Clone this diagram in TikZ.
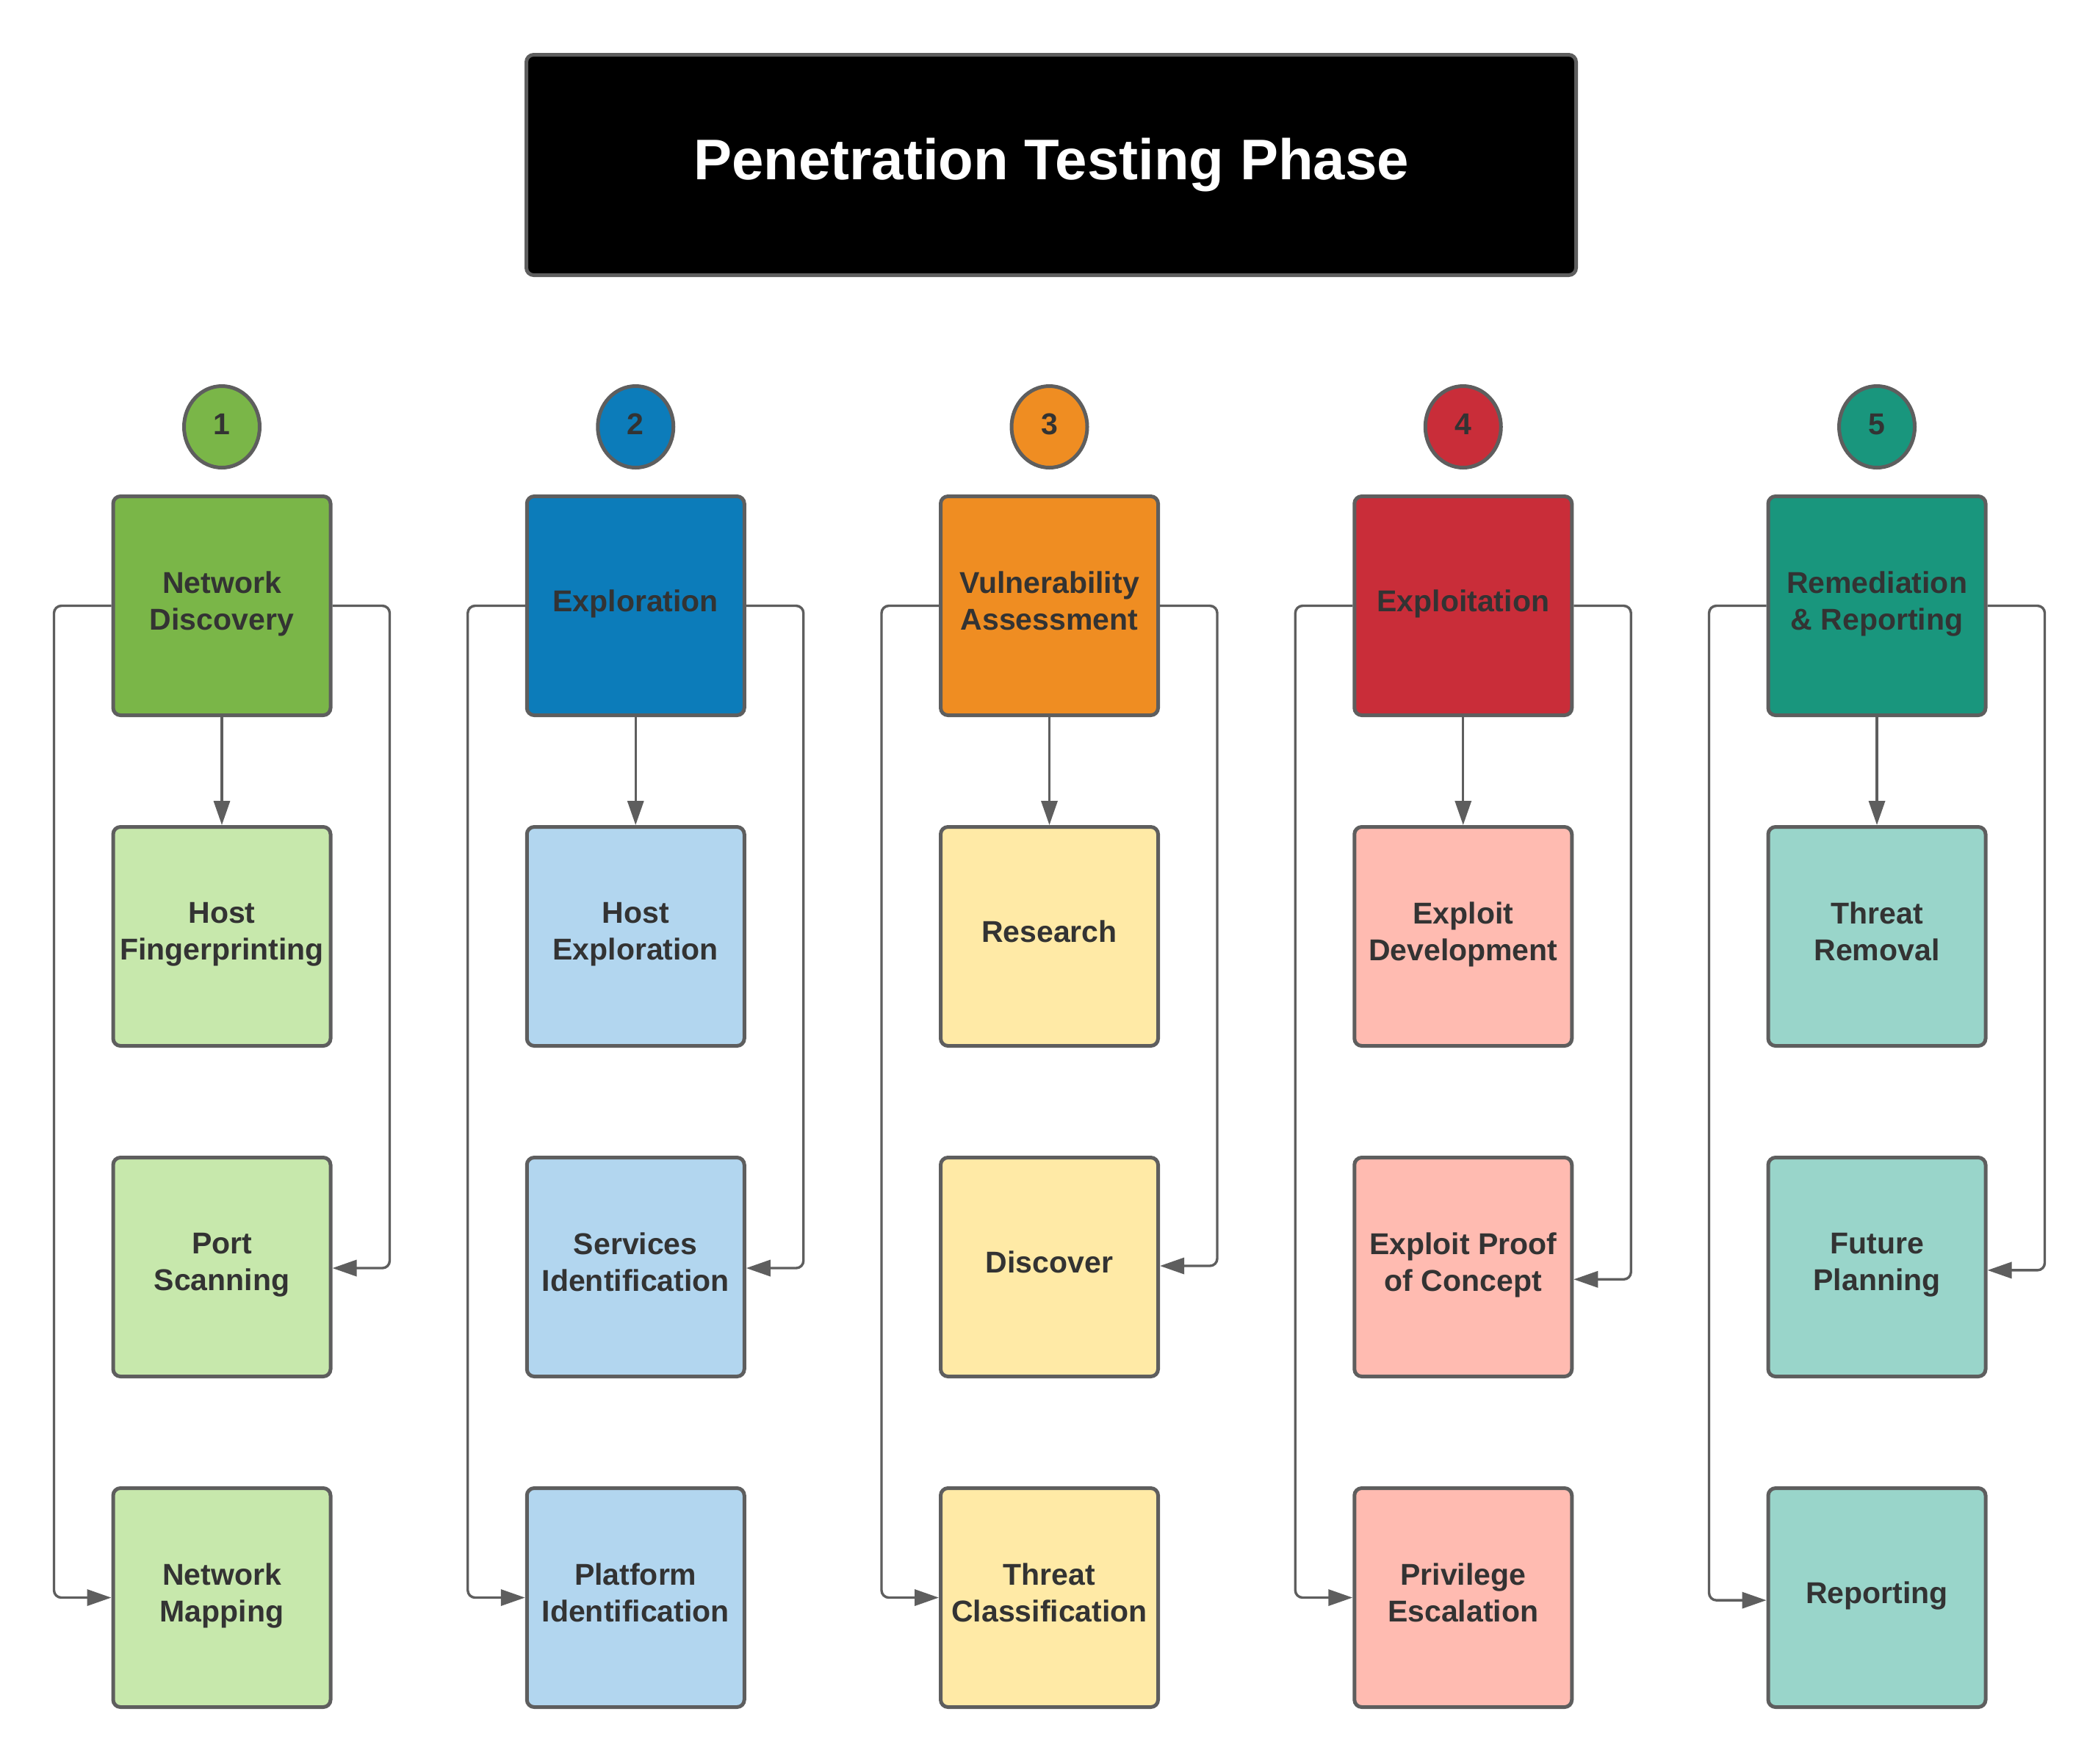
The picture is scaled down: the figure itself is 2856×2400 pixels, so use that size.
\documentclass[tikz,border=0pt]{standalone}
\usepackage{fontspec}
\setmainfont{Liberation Sans}
\usetikzlibrary{arrows.meta,shapes.geometric}
\definecolor{gA}{HTML}{7AB648}\definecolor{gL}{HTML}{C7E8AC}
\definecolor{bA}{HTML}{0C7CBA}\definecolor{bL}{HTML}{B2D6EF}
\definecolor{oA}{HTML}{EF8D22}\definecolor{oL}{HTML}{FFEAA6}
\definecolor{rA}{HTML}{C92D39}\definecolor{rL}{HTML}{FFBBB1}
\definecolor{tA}{HTML}{19967D}\definecolor{tL}{HTML}{99D5CA}
\definecolor{edge}{HTML}{5E5E5E}\definecolor{ink}{HTML}{333333}
\begin{document}
\begin{tikzpicture}[x=0.25pt,y=-0.25pt,
  box/.style={draw=edge,line width=1.25pt,rounded corners=2.5pt,minimum width=74pt,minimum height=74.5pt,inner sep=0pt,align=center,text=ink,text depth=3.5pt,font=\fontsize{10.25pt}{12.5pt}\selectfont\bfseries},
  num/.style={ellipse,draw=edge,line width=1.25pt,minimum width=25.75pt,minimum height=27.75pt,inner sep=0pt,text=ink,text depth=1.85pt,font=\fontsize{10.25pt}{12pt}\selectfont\bfseries},
  titlebox/.style={draw=edge,fill=black,line width=1.25pt,rounded corners=2.5pt,minimum width=357.25pt,minimum height=75pt,inner sep=0pt,text=white,font=\fontsize{19.5pt}{23pt}\selectfont\bfseries},
  conn/.style={draw=edge,line width=0.85pt,rounded corners=2.5pt,-{Triangle[length=8.25pt,width=5.5pt]}}]
\useasboundingbox (0,0) rectangle (2856,2400);
\fill[white] (0,0) rectangle (2856,2400);
\node[titlebox] (title) at (1431,224.5) {Penetration Testing Phase};
% column 1
\node[num,fill=gA] (c1) at (302,581) {1};
\node[box,fill=gA] (t1) at (302,824.5) {Network\\Discovery};
\node[box,fill=gL] (a1) at (302,1274.5) {Host\\Fingerprinting};
\node[box,fill=gL] (b1) at (302,1724.5) {Port\\Scanning};
\node[box,fill=gL] (d1) at (302,2174.5) {Network\\Mapping};
% column 2
\node[num,fill=bA] (c2) at (865.25,581) {2};
\node[box,fill=bA] (t2) at (865.25,824.5) {Exploration};
\node[box,fill=bL] (a2) at (865.25,1274.5) {Host\\Exploration};
\node[box,fill=bL] (b2) at (865.25,1724.5) {Services\\Identification};
\node[box,fill=bL] (d2) at (865.25,2174.5) {Platform\\Identification};
% column 3
\node[num,fill=oA] (c3) at (1428.5,581) {3};
\node[box,fill=oA] (t3) at (1428.5,824.5) {Vulnerability\\Assessment};
\node[box,fill=oL] (a3) at (1428.5,1274.5) {Research};
\node[box,fill=oL] (b3) at (1428.5,1724.5) {Discover};
\node[box,fill=oL] (d3) at (1428.5,2174.5) {Threat\\Classification};
% column 4
\node[num,fill=rA] (c4) at (1991.75,581) {4};
\node[box,fill=rA] (t4) at (1991.75,824.5) {Exploitation};
\node[box,fill=rL] (a4) at (1991.75,1274.5) {Exploit\\Development};
\node[box,fill=rL] (b4) at (1991.75,1724.5) {Exploit Proof\\of Concept};
\node[box,fill=rL] (d4) at (1991.75,2174.5) {Privilege\\Escalation};
% column 5
\node[num,fill=tA] (c5) at (2555,581) {5};
\node[box,fill=tA] (t5) at (2555,824.5) {Remediation\\\& Reporting};
\node[box,fill=tL] (a5) at (2555,1274.5) {Threat\\Removal};
\node[box,fill=tL] (b5) at (2555,1724.5) {Future\\Planning};
\node[box,fill=tL] (d5) at (2555,2174.5) {Reporting};
% connectors
\draw[conn] (t1.south) -- (a1.north);
\draw[conn] (t1.east) -- ++(78,0) |- ([yshift=-0.375pt]b1.east);
\draw[conn] (t1.west) -- ++(-78,0) |- (d1.west);
\draw[conn] (t2.south) -- (a2.north);
\draw[conn] (t2.east) -- ++(78,0) |- ([yshift=-0.375pt]b2.east);
\draw[conn] (t2.west) -- ++(-78,0) |- (d2.west);
\draw[conn] (t3.south) -- (a3.north);
\draw[conn] (t3.east) -- ++(78,0) |- ([yshift=0.375pt]b3.east);
\draw[conn] (t3.west) -- ++(-78,0) |- (d3.west);
\draw[conn] (t4.south) -- (a4.north);
\draw[conn] (t4.east) -- ++(78,0) |- ([yshift=-4.2pt]b4.east);
\draw[conn] (t4.west) -- ++(-78,0) |- (d4.west);
\draw[conn] (t5.south) -- (a5.north);
\draw[conn] (t5.east) -- ++(78,0) |- ([yshift=-1.1pt]b5.east);
\draw[conn] (t5.west) -- ++(-78,0) |- ([yshift=-0.9pt]d5.west);
\end{tikzpicture}
\end{document}
